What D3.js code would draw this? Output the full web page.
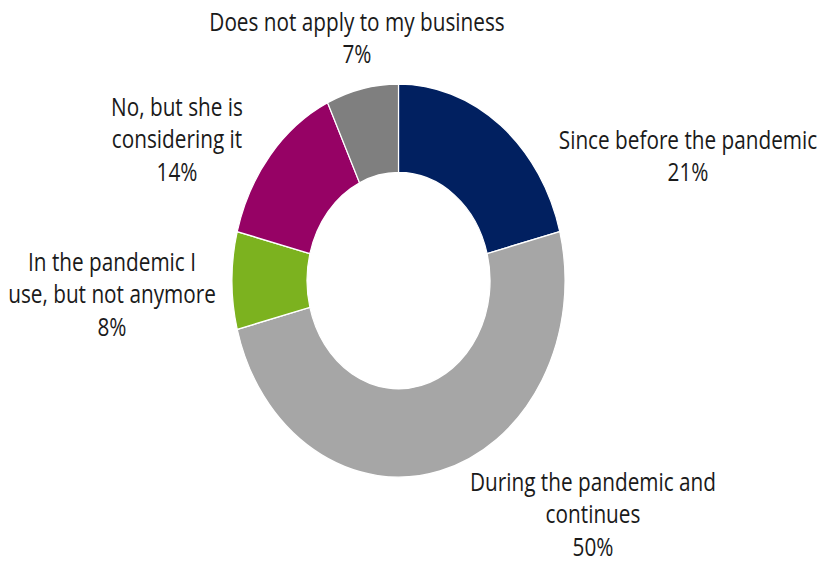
<!DOCTYPE html>
<html>
<head>
<meta charset="utf-8">
<script src="https://cdn.jsdelivr.net/npm/d3@7"></script>
<style>
	html, body { margin: 0; padding: 0; background: #fff; }
	svg { display: block; }
	text { font-family: "Open Sans", sans-serif; fill: #1a1a1a; }
</style>
</head>
<body>
<svg id="chart" width="821" height="563"></svg>
<script>
(function () {
	'use strict';

	// Data
	var categories = [
		'Since before the pandemic',
		'During the pandemic and continues',
		'In the pandemic I use, but not anymore',
		'No, but she is considering it',
		'Does not apply to my business'
	];
	var values = [21, 50, 8, 14, 7];
	var labelLines = [
		['Since before the pandemic', '21%'],
		['During the pandemic and', 'continues', '50%'],
		['In the pandemic I', 'use, but not anymore', '8%'],
		['No, but she is', 'considering it', '14%'],
		['Does not apply to my business', '7%']
	];

	// Styles / layout
	var colors = ['#012060', '#a6a6a6', '#7cb21f', '#960265', '#7f7f7f'];
	var labelPos = [[688, 140], [593, 482], [112, 262], [177, 107], [357, 22]];
	var cx = 398.5, cy = 280.5, outerR = 166.5, innerR = 91.5, yScale = 1.18;
	var lineH = 32.5, xSquish = 0.83;

	var svg = d3.select('#chart'),
		rows = categories.map(function (c, i) { return { name: c, value: values[i], idx: i }; }),
		pie, arc, g, labels;

	pie = d3.pie().sort(null).value(function (d) { return d.value; });
	arc = d3.arc().innerRadius(innerR).outerRadius(outerR);

	// donut is stretched vertically in the source picture
	g = svg.append('g').attr('transform', 'translate(' + cx + ',' + cy + ') scale(1,' + yScale + ')');
	g.selectAll('path')
		.data(pie(rows))
		.enter().append('path')
		.attr('d', arc)
		.attr('fill', function (d) { return colors[d.data.idx]; })
		.attr('stroke', '#fff')
		.attr('stroke-width', 1.2);

	labels = svg.selectAll('g.label')
		.data(rows)
		.enter().append('g')
		.attr('class', 'label')
		.attr('transform', function (d) {
			var p = labelPos[d.idx];
			return 'translate(' + p[0] + ',' + p[1] + ') scale(' + xSquish + ',1)';
		});

	labels.selectAll('text')
		.data(function (d) { return labelLines[d.idx]; })
		.enter().append('text')
		.attr('text-anchor', 'middle')
		.attr('y', function (d, i) { return i * lineH; })
		.attr('dy', '0.35em')
		.attr('font-size', 25)
		.text(function (d) { return d; });
}());
</script>
</body>
</html>
